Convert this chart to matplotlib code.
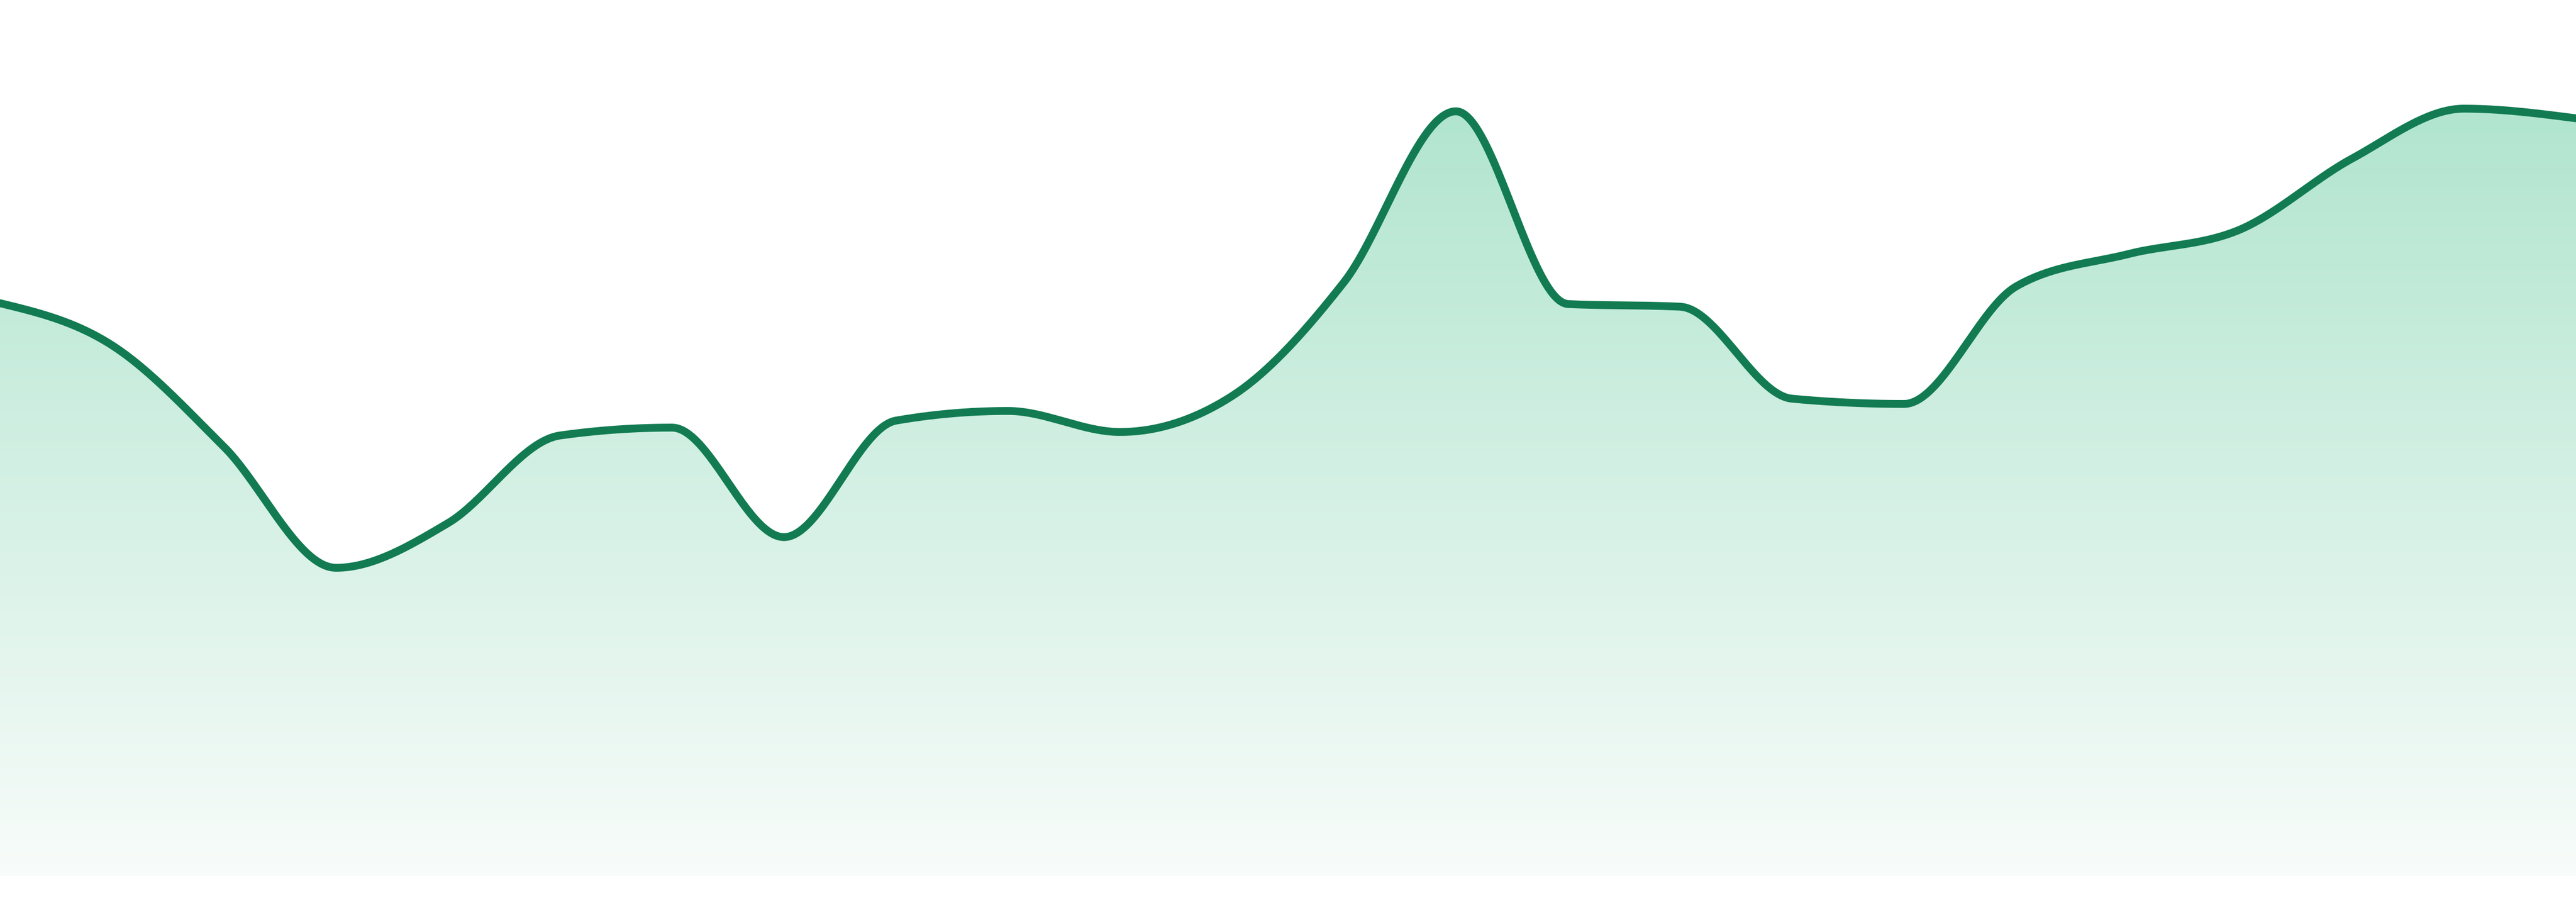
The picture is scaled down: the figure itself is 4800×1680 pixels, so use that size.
# area chart with a smooth monotone line and a vertical green gradient fill
import numpy as np
import matplotlib
matplotlib.use('Agg')
import matplotlib.pyplot as plt
from matplotlib.colors import LinearSegmentedColormap

# values (0 = baseline of the fill)
values = [65.4, 60.6, 49.0, 35.2, 40.3, 50.3, 51.2, 38.7, 52.0, 53.1, 50.7, 54.8,
          67.8, 87.3, 65.3, 65.0, 54.5, 53.9, 67.3, 71.0, 73.8, 81.9, 87.6, 86.5]
steps = list(range(len(values)))

line_color = '#127b52'
fill_top = '#b1e5cf'
fill_bottom = '#f8fcfa'


def monotone_x(x, y, n=40):
    # same slopes as d3.curveMonotoneX, drawn as cubic hermite pieces
    x = np.asarray(x, float)
    y = np.asarray(y, float)
    h = np.diff(x)
    s = np.diff(y) / h
    t = np.zeros_like(y)
    for i in range(1, len(y) - 1):
        p = (s[i - 1] * h[i] + s[i] * h[i - 1]) / (h[i - 1] + h[i])
        t[i] = (np.sign(s[i - 1]) + np.sign(s[i])) * min(abs(s[i - 1]), abs(s[i]), 0.5 * abs(p))
    t[0] = (3 * s[0] - t[1]) / 2
    t[-1] = (3 * s[-1] - t[-2]) / 2
    xs, ys = [], []
    for i in range(len(x) - 1):
        u = np.linspace(0, 1, n, endpoint=False)
        h00 = 2 * u**3 - 3 * u**2 + 1
        h10 = u**3 - 2 * u**2 + u
        h01 = -2 * u**3 + 3 * u**2
        h11 = u**3 - u**2
        xs.append(x[i] + u * h[i])
        ys.append(h00 * y[i] + h10 * h[i] * t[i] + h01 * y[i + 1] + h11 * h[i] * t[i + 1])
    xs.append([x[-1]])
    ys.append([y[-1]])
    return np.concatenate(xs), np.concatenate(ys)


xs, ys = monotone_x(steps, values)

fig = plt.figure(figsize=(16, 5.6), dpi=300)
ax = fig.add_axes([0, 0, 1, 1])
ax.axis('off')

# gradient fill clipped to the area under the line
top = max(values)
cmap = LinearSegmentedColormap.from_list('fade', [fill_bottom, fill_top])
grad = np.linspace(0, 1, 256).reshape(-1, 1)
img = ax.imshow(grad, cmap=cmap, origin='lower', aspect='auto',
                extent=[0, len(values) - 1, 0, top], zorder=1)
poly = ax.fill_between(xs, ys, 0, color='none', lw=0)
clip = poly.get_paths()[0]
img.set_clip_path(clip, transform=ax.transData)

ax.plot(xs, ys, color=line_color, lw=3.5, solid_capstyle='round',
        solid_joinstyle='round', zorder=3)

# limits after imshow, which resets them to its extent
ax.set_xlim(0, len(values) - 1)
ax.set_ylim(-48 / 16.32, 100)

fig.savefig('out.png', dpi=300)
